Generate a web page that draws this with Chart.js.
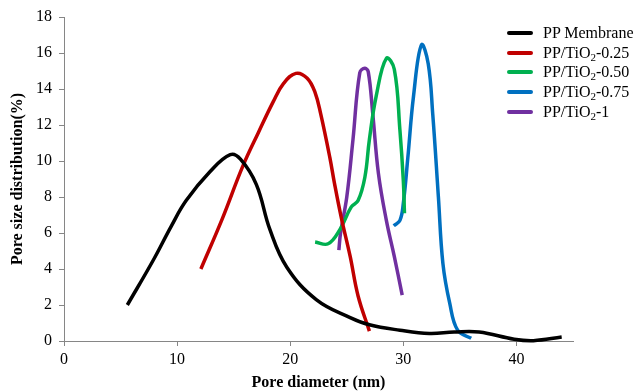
<!DOCTYPE html>
<html>
<head>
<meta charset="utf-8">
<script src="https://cdn.jsdelivr.net/npm/chart.js@4/dist/chart.umd.min.js"></script>
<style>
    body { margin: 0; background: #fff; }
    #wrap { position: relative; width: 638px; height: 392px; }
    #legend { position: absolute; left: 507px; top: 23px; font-family: "Liberation Serif", serif; font-size: 16px; color: #000; }
    .item { position: relative; height: 19.7px; line-height: 19.7px; white-space: nowrap; }
    .item span.swatch { position: absolute; left: 0; top: 8px; width: 26px; height: 4px; border-radius: 2px; }
    .item span.label { position: absolute; left: 36px; top: 0; }
    .item sub { font-size: 11px; line-height: 0; vertical-align: -3px; }
</style>
</head>
<body>
<div id="wrap">
    <canvas id="chart" width="638" height="392"></canvas>
    <div id="legend"></div>
</div>
<script>
// series values (x = pore diameter nm, y = %)
const ppX = [5.6, 7.9, 9.5, 10.8, 12.9, 14.7, 15.6, 17.0, 18.2, 19.7, 22.3, 25.3, 27.0, 29.7, 32.3, 34.5, 36.7, 39.8, 41.5, 44.0];
const ppY = [2.0, 4.5, 6.4, 7.8, 9.4, 10.35, 10.1, 8.7, 6.2, 4.1, 2.3, 1.3, 0.9, 0.6, 0.42, 0.5, 0.5, 0.1, 0.02, 0.22];

const p25X = [12.1, 14.0, 15.8, 17.2, 18.5, 19.4, 20.5, 21.5, 22.2, 22.7, 23.5, 23.9, 24.5, 25.3, 26.0, 27.0];
const p25Y = [4.0, 6.8, 9.7, 11.6, 13.3, 14.3, 14.87, 14.6, 13.8, 12.6, 10.2, 8.8, 6.9, 4.7, 2.5, 0.55];

const p50X = [22.2, 23.35, 24.4, 25.4, 26.0, 26.6, 27.0, 27.6, 28.5, 29.2, 29.7, 30.0, 30.1];
const p50Y = [5.5, 5.4, 6.2, 7.45, 7.8, 9.1, 11.2, 13.6, 15.7, 15.1, 11.7, 8.9, 7.1];

const p75X = [29.15, 29.7, 30.0, 30.4, 30.9, 31.6, 32.2, 32.6, 33.1, 33.5, 34.1, 34.8, 36.0];
const p75Y = [6.4, 6.7, 7.65, 10.2, 13.6, 16.45, 15.4, 12.6, 8.0, 4.3, 2.1, 0.6, 0.15];

const p1X = [24.3, 24.45, 25.0, 25.55, 26.15, 26.6, 26.9, 27.3, 27.8, 28.5, 29.2, 29.9];
const p1Y = [5.05, 6.0, 8.0, 11.2, 14.9, 15.15, 14.95, 12.6, 9.3, 6.7, 4.7, 2.55];

const seriesNames = ['PP Membrane', 'PP/TiO<sub>2</sub>-0.25', 'PP/TiO<sub>2</sub>-0.50', 'PP/TiO<sub>2</sub>-0.75', 'PP/TiO<sub>2</sub>-1'];
const seriesColors = ['#000000', '#C00000', '#00B050', '#0070C0', '#7030A0'];
const xTicks = [0, 10, 20, 30, 40];
const yTicks = [0, 2, 4, 6, 8, 10, 12, 14, 16, 18];

const allX = [ppX, p25X, p50X, p75X, p1X];
const allY = [ppY, p25Y, p50Y, p75Y, p1Y];

const datasets = allX.map((xs, i) => ({
    label: seriesNames[i].replace(/<\/?sub>/g, ''),
    data: xs.map((x, j) => ({ x: x, y: allY[i][j] })),
    borderColor: seriesColors[i],
    backgroundColor: seriesColors[i],
    borderWidth: 3.5,
    pointRadius: 0,
    showLine: true,
    tension: 0.4,
    clip: 4
}));

const axisColor = '#868686';
const font = { family: 'Liberation Serif', size: 16 };
const boldFont = { family: 'Liberation Serif', size: 16, weight: 'bold' };

new Chart(document.getElementById('chart').getContext('2d'), {
    type: 'scatter',
    data: { datasets: datasets },
    options: {
        responsive: false,
        animation: false,
        devicePixelRatio: 1,
        layout: { padding: { top: 17, right: 65, left: 0, bottom: 0 } },
        plugins: { legend: { display: false }, tooltip: { enabled: false } },
        scales: {
            x: {
                type: 'linear',
                min: 0,
                max: 45,
                afterBuildTicks: (scale) => { scale.ticks = xTicks.map(v => ({ value: v })); },
                afterFit: (scale) => { scale.height = 51; },
                grid: { drawOnChartArea: false, drawTicks: true, tickLength: 5, color: axisColor },
                border: { color: axisColor, width: 1 },
                ticks: { font: font, color: '#000', padding: 4, maxRotation: 0 },
                title: { display: true, text: 'Pore diameter (nm)', font: boldFont, color: '#000', padding: { top: 2, bottom: 0 } }
            },
            y: {
                min: 0,
                max: 18,
                afterBuildTicks: (scale) => { scale.ticks = yTicks.map(v => ({ value: v })); },
                afterFit: (scale) => { scale.width = 64; },
                grid: { drawOnChartArea: false, drawTicks: true, tickLength: 5, color: axisColor },
                border: { color: axisColor, width: 1 },
                ticks: { font: font, color: '#000', padding: 7 },
                title: { display: true, text: 'Pore size distribution(%)', font: boldFont, color: '#000', padding: { top: 8, bottom: 0 } }
            }
        }
    }
});

const legend = document.getElementById('legend');
seriesNames.forEach((name, i) => {
    const row = document.createElement('div');
    row.classList.add('item');
    row.innerHTML = `<span class="swatch" style="background:${seriesColors[i]}"></span><span class="label">${name}</span>`;
    legend.appendChild(row);
});
</script>
</body>
</html>
